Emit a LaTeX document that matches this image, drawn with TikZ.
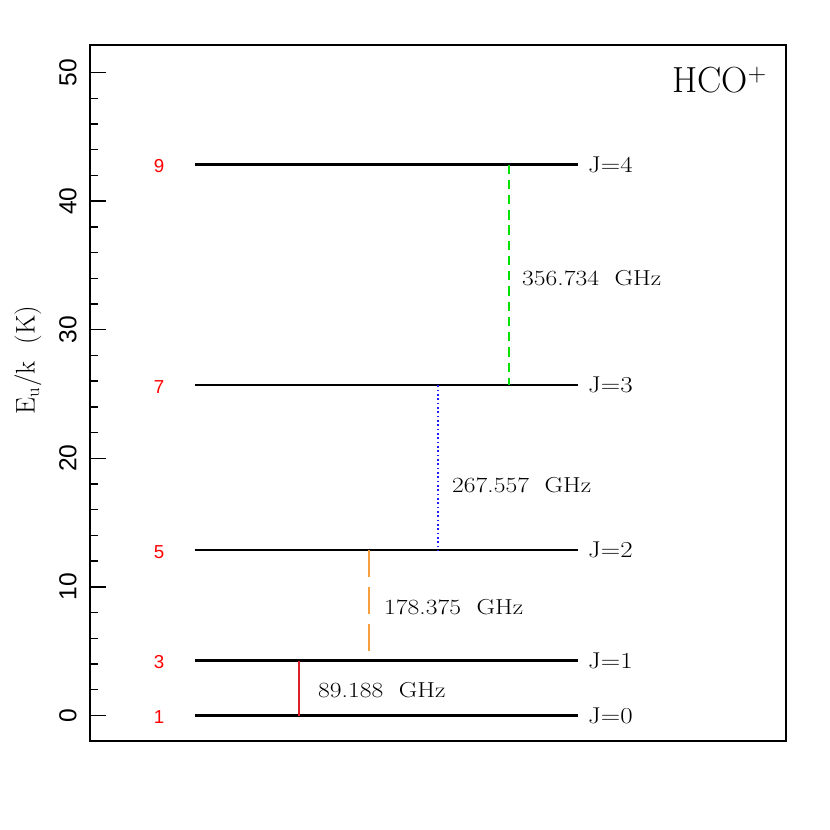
\documentclass[tikz,border=0pt]{standalone}
\usepackage{fontspec}
\usepackage{graphicx}
\newfontfamily\helv{Liberation Sans}
\newcommand{\widetxt}[1]{\scalebox{1.18}[1]{#1}}
\begin{document}
\begin{tikzpicture}[x=0.03cm,y=-0.03cm,
 levelline/.style={line width=1.9pt},
 frameline/.style={line width=1.3pt},
 tickline/.style={line width=1.2pt},
 ticklab/.style={font=\helv\fontsize{21}{21}\selectfont, rotate=90, anchor=center, inner sep=0pt},
 deg/.style={font=\helv\fontsize{16}{16}\selectfont, text=red, inner sep=0pt},
 jlab/.style={font=\fontsize{19.5}{19.5}\selectfont, anchor=west, inner sep=0pt},
 flab/.style={font=\fontsize{18.5}{18.5}\selectfont, anchor=west, inner sep=0pt},
 trans/.style={line width=1.2pt},
]
\useasboundingbox (0,0) rectangle (830,830);
% frame
\draw[frameline] (90,45) rectangle (786,741);
% ticks
\foreach \v in {2,4,...,48}{
  \pgfmathsetmacro{\yy}{715.5-12.86*\v}
  \draw[tickline] (90,\yy) -- +(8,0);
}
\foreach \v in {0,10,...,50}{
  \pgfmathsetmacro{\yy}{715.5-12.86*\v}
  \draw[tickline] (90,\yy) -- +(16,0);
  \node[ticklab] (t\v) at (68,\yy) {\v};
}
% axis label
\node[font=\fontsize{23}{23}\selectfont, rotate=90, inner sep=0pt] (ylab) at (28,360) {E$_{\mathrm{u}}$/k\,\, (K)};
% title
\node[font=\fontsize{31}{31}\selectfont, anchor=base west, inner sep=0pt] (title) at (672,92) {HCO\textsuperscript{+}};
% levels
\foreach \j/\yy/\g in {0/715.5/1, 1/660.5/3, 2/550.3/5, 3/385.3/7, 4/164.5/9}{
  \coordinate (L\j a) at (195,\yy);
  \coordinate (L\j b) at (578,\yy);
  \draw[levelline] (L\j a) -- (L\j b);
  \node[jlab] (J\j) at (588,\yy) {\widetxt{J=\j}};
  \node[deg] (g\j) at (159,\yy+2) {\g};
}
% transitions
\coordinate (r0) at (299,715.5); \coordinate (r1) at (299,660.5);
\draw[trans, color={rgb,255:red,220;green,30;blue,40}] (r1) -- (r0);
\coordinate (o1) at (369,660.5); \coordinate (o2) at (369,550.3);
\draw[trans, color={rgb,255:red,245;green,160;blue,60}, dash pattern=on 23pt off 8.5pt] (o2) -- (o1);
\coordinate (b2) at (438,550.3); \coordinate (b3) at (438,385.3);
\draw[line width=1.5pt, color={rgb,255:red,30;green,30;blue,255}, dash pattern=on 1.5pt off 2.2pt] (b3) -- (b2);
\coordinate (gr3) at (509,385.3); \coordinate (gr4) at (509,164.5);
\draw[trans, color={rgb,255:red,0;green,225;blue,0}, dash pattern=on 8pt off 5pt] (gr4) -- (gr3);
% frequency labels
\node[flab] (f1) at (318,690) {\widetxt{89.188\ \ GHz}};
\node[flab] (f2) at (384,607) {\widetxt{178.375\ \ GHz}};
\node[flab] (f3) at (452,485) {\widetxt{267.557\ \ GHz}};
\node[flab] (f4) at (522,278) {\widetxt{356.734\ \ GHz}};
\end{tikzpicture}
\end{document}
